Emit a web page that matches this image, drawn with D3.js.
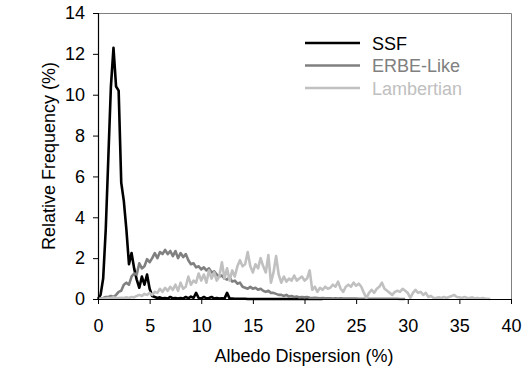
<!DOCTYPE html>
<html><head><meta charset="utf-8">
<script src="https://cdn.jsdelivr.net/npm/d3@7"></script>
<style>
html,body{margin:0;padding:0;background:#fff;}
svg{display:block;font-family:"Liberation Sans",Arial,sans-serif;}
</style></head>
<body><svg id="chart" width="530" height="376"></svg>
<script>
// Bin width of the histogram (Albedo Dispersion, %)
const binWidth = 0.25;
const xTicks = [0,5,10,15,20,25,30,35,40];
const yTicks = [0,2,4,6,8,10,12,14];
const seriesNames = ["SSF","ERBE-Like","Lambertian"];

// Relative frequency (%) per bin, starting at 0 with step binWidth
const ssf = [
0,0.2,1.0,3.4,6.9,10.4,12.3,10.4,10.2,5.7,4.8,3.4,1.7,2.25,1.5,0.95,
0.55,1.1,0.7,1.2,0.5,0.15,0.1,0.05,0.08,0.03,0.05,0.02,0.1,0.03,0.05,0.02,
0.05,0.02,0.1,0.03,0.12,0.05,0.3,0.05,0.02,0.1,0.03,0.05,0.1,0.02,0.05,0.02,
0.03,0.02,0.3,0.02,0.02,0.01,0.01,0.01,0.01,0.01,0,0,0,0,
0,0,0,0,0,0,0,0,0,0,0,0,0,0,0,0,
0,0,0,0,0,0,0,0,0,0
];
const erbe = [
0,0.02,0.05,0.1,0.1,0.15,0.1,0.2,0.35,0.4,0.7,0.8,0.7,1.1,1.25,1.2,
1.75,1.5,1.6,1.95,1.8,2.0,2.25,2.0,2.3,2.2,2.4,2.2,2.35,2.1,2.35,2.0,
2.25,2.05,2.2,1.9,1.7,1.75,1.55,1.6,1.45,1.55,1.4,1.5,1.3,1.35,1.2,1.1,
1.15,1.0,0.95,1.05,0.85,0.9,0.75,0.8,0.6,0.55,0.5,0.6,0.5,0.55,0.45,0.5,
0.4,0.35,0.4,0.3,0.3,0.25,0.2,0.2,0.15,0.2,0.12,0.15,0.1,0.12,0.08,0.1,
0.08,0.1,0.06,0.05,0.06,0.05,0.04,0.05,0.03,0.03,0.03,0.02,0.03,0.02,0.03,0.02,
0.02,0.02,0.02,0.02,0.02,0.01,0.01,0.01,0.01,0.01,0.01,0.01,0.01,0.01,0.01,0.01,
0.01,0.01,0.01,0.01,0.01,0,0,0
];
const lambertian = [
0,0.01,0.02,0.03,0.05,0.05,0.08,0.05,0.05,0.06,0.05,0.08,0.05,0.1,0.08,0.15,
0.2,0.15,0.25,0.2,0.3,0.2,0.35,0.3,0.5,0.35,0.55,0.4,0.6,0.45,0.7,0.4,
0.8,0.5,0.6,1.1,0.7,0.9,0.8,1.25,0.9,1.2,0.8,1.4,1.0,1.3,0.9,1.1,
1.8,1.0,1.5,0.9,1.4,1.1,1.6,1.9,1.6,1.7,2.3,1.6,1.3,1.7,1.5,2.0,
1.6,1.3,2.15,0.8,1.3,2.1,1.2,0.8,1.1,0.85,1.0,0.9,1.15,0.9,1.0,1.1,
0.9,1.0,1.4,0.45,0.6,0.35,0.55,0.45,0.6,0.5,0.55,0.7,0.6,0.85,0.5,0.35,
0.6,0.7,0.6,0.8,0.65,0.75,0.6,0.3,0.05,0.3,0.45,0.3,0.5,0.6,0.8,0.5,
0.4,0.3,0.2,0.35,0.4,0.35,0.5,0.4,0.3,0.05,0.3,0.45,0.3,0.35,0.2,0.3,
0.1,0.15,0.05,0.05,0.08,0.05,0.1,0.05,0.1,0.15,0.2,0.1,0.08,0.05,0.1,0.05,
0.05,0.08,0.03,0.05,0.02,0.05,0.02,0.01,0
];
const seriesData = [ssf, erbe, lambertian];
const seriesColors = ["#000000","#808080","#c0c0c0"];

const svg = d3.select("#chart");
const m = {left:98, right:511, top:13, bottom:299};
const x = d3.scaleLinear().domain([0,40]).range([m.left,m.right]);
const y = d3.scaleLinear().domain([0,14]).range([m.bottom,m.top]);

// plot border (top/right)
svg.append("path")
  .attr("d",`M${m.left},${m.top+0.5}H${m.right+0.5}V${m.bottom}`)
  .attr("fill","none").attr("stroke","#808080").attr("stroke-width",1);

const line = d3.line().x((d,i)=>x(i*binWidth)).y(d=>y(d));
const g = svg.append("g");
seriesData.forEach((s,k)=>{
  g.append("path").datum(s).attr("d",line)
   .attr("fill","none").attr("stroke",seriesColors[k])
   .attr("stroke-width",2.6).attr("stroke-linejoin","round");
});

// axes
const xAxis = d3.axisBottom(x).tickValues(xTicks).tickSize(5).tickPadding(15).tickFormat(d3.format("d"));
const yAxis = d3.axisLeft(y).tickValues(yTicks).tickSize(5).tickPadding(8).tickFormat(d3.format("d"));
const gx = svg.append("g").attr("transform",`translate(0,${m.bottom})`).call(xAxis);
const gy = svg.append("g").attr("transform",`translate(${m.left},0)`).call(yAxis);
[gx,gy].forEach(a=>{
  a.select(".domain").attr("stroke","#000").attr("stroke-width",1.2);
  a.selectAll(".tick line").attr("stroke","#000");
  a.selectAll(".tick text").attr("font-size",18).attr("fill","#000")
   .attr("font-family","'Liberation Sans',Arial,sans-serif");
});
gx.select(".domain").attr("d",`M${m.left},0.5H${m.right}`);

svg.append("text").attr("x",304).attr("y",362).attr("text-anchor","middle")
  .attr("font-size",18).text("Albedo Dispersion (%)");
svg.append("text").attr("transform",`translate(55,156) rotate(-90)`)
  .attr("text-anchor","middle").attr("font-size",18).text("Relative Frequency (%)");

// legend
const leg = svg.append("g");
seriesNames.forEach((n,k)=>{
  const yy = 43 + k*22.5;
  leg.append("line").attr("x1",305).attr("x2",360).attr("y1",yy).attr("y2",yy)
    .attr("stroke",seriesColors[k]).attr("stroke-width",2.6);
  leg.append("text").attr("x",372).attr("y",yy+6.5).attr("font-size",18)
    .attr("fill",seriesColors[k]).text(n);
});
</script></body></html>
